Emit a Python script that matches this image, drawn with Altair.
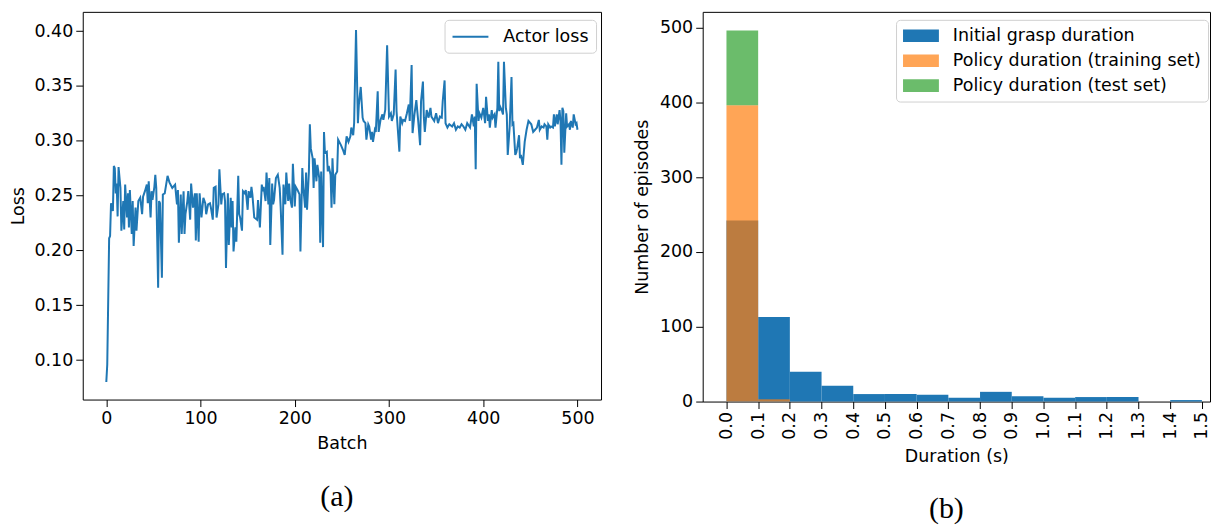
import altair as alt
import pandas as pd

# ---------------- panel (a): actor loss ----------------
batch = [0, 1, 3, 4, 5, 7, 8, 9, 10, 11, 12, 13, 15, 16, 18, 19, 20, 22, 23, 24, 25, 27, 28, 29, 31, 32, 34, 36, 38, 39,
         41, 43, 44, 45, 47, 48, 49, 51, 52, 53, 55, 56, 57, 59, 60, 62, 65, 67, 70, 73, 75, 76, 77, 79, 80, 82, 83, 84, 86, 87,
         89, 90, 92, 94, 95, 96, 98, 99, 101, 103, 105, 106, 108, 110, 111, 113, 114, 116, 117, 119, 120, 122, 123, 125, 126, 127, 129, 130, 132, 133,
         134, 135, 137, 138, 140, 141, 142, 144, 145, 147, 148, 150, 151, 153, 154, 155, 157, 160, 161, 163, 165, 166, 167, 169, 170, 172, 173, 174, 176, 177,
         178, 180, 182, 184, 185, 187, 188, 190, 191, 193, 194, 195, 197, 198, 200, 201, 203, 205, 206, 208, 209, 211, 212, 213, 215, 216, 217, 219, 220, 221,
         223, 224, 226, 227, 228, 230, 231, 232, 234, 235, 236, 238, 239, 240, 242, 243, 245,
         246, 249, 251, 253, 255, 257, 259, 260, 262, 263, 265, 267, 268, 270, 272, 273, 275, 276, 278, 279, 281, 282, 283, 285, 286, 288, 289, 291, 293, 294,
         296, 298, 300, 302, 303, 305, 307, 308, 311, 312, 314, 315, 317, 319, 321, 322, 324, 325, 327, 329, 330, 331, 333, 334, 336, 337, 338, 340, 342, 344,
         345, 348, 350, 352, 354, 356, 357, 359, 360, 362, 364, 367, 369, 371, 373, 375, 377, 379, 381, 383, 386, 388, 390, 391, 392, 393, 395, 396, 398, 400,
         402, 403, 405, 406, 407, 409, 410, 412, 413, 415, 416, 417, 418, 420, 421, 422, 424, 425, 426, 428, 430, 431, 432, 434, 435, 436, 438, 439, 440, 442,
         444, 446, 448, 451, 453, 455, 457, 459, 460, 462, 464, 465, 467, 468, 469, 471, 472, 474, 475, 476, 478, 479, 481, 482, 483, 484, 485, 486, 488, 489,
         491, 492, 493, 495, 496, 498, 499, 500]
loss = [0.080, 0.096, 0.211, 0.213, 0.243, 0.236, 0.277, 0.275, 0.252, 0.261, 0.231, 0.276, 0.257, 0.218, 0.245, 0.219, 0.260, 0.230, 0.252, 0.221, 0.255, 0.215, 0.245, 0.204, 0.239, 0.218, 0.245, 0.248, 0.233, 0.249,
        0.254, 0.260, 0.243, 0.263, 0.230, 0.254, 0.246, 0.258, 0.269, 0.257, 0.166, 0.245, 0.243, 0.175, 0.251, 0.252, 0.268, 0.262, 0.257, 0.260, 0.242, 0.255, 0.207, 0.251, 0.215, 0.254, 0.215, 0.233, 0.245, 0.254,
        0.228, 0.261, 0.239, 0.252, 0.209, 0.252, 0.208, 0.252, 0.230, 0.248, 0.243, 0.233, 0.242, 0.243, 0.239, 0.228, 0.257, 0.258, 0.230, 0.242, 0.274, 0.242, 0.251, 0.252, 0.245, 0.184, 0.252, 0.205, 0.248, 0.221,
        0.245, 0.199, 0.221, 0.208, 0.268, 0.233, 0.230, 0.218, 0.254, 0.252, 0.255, 0.237, 0.254, 0.248, 0.258, 0.251, 0.230, 0.228, 0.246, 0.221, 0.260, 0.254, 0.258, 0.245, 0.271, 0.242, 0.266, 0.205, 0.261, 0.242,
        0.246, 0.266, 0.269, 0.257, 0.240, 0.196, 0.260, 0.242, 0.271, 0.245, 0.261, 0.248, 0.239, 0.279, 0.240, 0.258, 0.255, 0.251, 0.199, 0.275, 0.258, 0.239, 0.271, 0.237, 0.272, 0.315, 0.293, 0.284, 0.257, 0.284,
        0.263, 0.278, 0.266, 0.207, 0.272, 0.203, 0.308, 0.289, 0.290, 0.272, 0.277, 0.269, 0.239, 0.284, 0.242, 0.269, 0.272,
        0.301, 0.296, 0.292, 0.287, 0.304, 0.299, 0.304, 0.312, 0.305, 0.316, 0.401, 0.316, 0.333, 0.349, 0.321, 0.318, 0.316, 0.301, 0.315, 0.313, 0.301, 0.308, 0.299, 0.310, 0.308, 0.345, 0.308, 0.319, 0.324, 0.319,
        0.328, 0.387, 0.322, 0.325, 0.318, 0.324, 0.365, 0.327, 0.290, 0.322, 0.316, 0.319, 0.318, 0.325, 0.333, 0.318, 0.369, 0.307, 0.324, 0.337, 0.327, 0.318, 0.296, 0.336, 0.354, 0.321, 0.308, 0.328, 0.321, 0.330,
        0.322, 0.318, 0.325, 0.316, 0.322, 0.321, 0.336, 0.355, 0.316, 0.312, 0.315, 0.313, 0.316, 0.310, 0.313, 0.312, 0.315, 0.313, 0.310, 0.316, 0.312, 0.324, 0.313, 0.322, 0.274, 0.352, 0.318, 0.325, 0.321, 0.330,
        0.316, 0.340, 0.318, 0.324, 0.312, 0.328, 0.321, 0.324, 0.312, 0.330, 0.372, 0.327, 0.331, 0.327, 0.324, 0.372, 0.330, 0.324, 0.287, 0.312, 0.358, 0.315, 0.316, 0.287, 0.289, 0.293, 0.305, 0.284, 0.287, 0.278,
        0.299, 0.310, 0.318, 0.315, 0.308, 0.310, 0.312, 0.319, 0.310, 0.313, 0.312, 0.315, 0.313, 0.301, 0.315, 0.312, 0.313, 0.312, 0.324, 0.313, 0.324, 0.315, 0.328, 0.318, 0.278, 0.330, 0.327, 0.289, 0.325, 0.313,
        0.315, 0.310, 0.318, 0.312, 0.324, 0.315, 0.316, 0.310]
loss_ticks = [0.10, 0.15, 0.20, 0.25, 0.30, 0.35, 0.40]
batch_ticks = [0, 100, 200, 300, 400, 500]

# ---------------- panel (b): duration histogram ----------------
bin_start = [0.0, 0.1, 0.2, 0.3, 0.4, 0.5, 0.6, 0.7, 0.8, 0.9, 1.0, 1.1, 1.2, 1.3, 1.4]
grasp_counts = [242, 113, 40, 21, 10, 10, 9, 5, 13, 7, 5, 6, 6, 0, 2]
train_counts = [396, 3, 0, 0, 0, 0, 0, 0, 0, 0, 0, 0, 0, 0, 0]
test_counts = [100, 0, 0, 0, 0, 0, 0, 0, 0, 0, 0, 0, 0, 0, 0]
series_names = ["Initial grasp duration", "Policy duration (training set)", "Policy duration (test set)"]
series_colors = ["#1f77b4", "#ff7f0e", "#2ca02c"]
series_alpha = [1.0, 0.7, 0.7]
duration_ticks = [0.0, 0.1, 0.2, 0.3, 0.4, 0.5, 0.6, 0.7, 0.8, 0.9, 1.0, 1.1, 1.2, 1.3, 1.4, 1.5]
count_ticks = [0, 100, 200, 300, 400, 500]

FONT = "DejaVu Sans"
TICK_FS = 17.5
TITLE_FS = 17.5
LEG_FS = 17.5

line_df = pd.DataFrame({"Batch": batch, "Loss": loss, "series": "Actor loss"})

rows = []
for i, b in enumerate(bin_start):
    rows.append({"series": series_names[0], "x0": b, "x1": b + 0.1, "y0": 0, "y1": grasp_counts[i]})
for i, b in enumerate(bin_start):
    rows.append({"series": series_names[1], "x0": b, "x1": b + 0.1, "y0": 0, "y1": train_counts[i]})
for i, b in enumerate(bin_start):
    rows.append({"series": series_names[2], "x0": b, "x1": b + 0.1,
                 "y0": train_counts[i], "y1": train_counts[i] + test_counts[i]})
hist_df = pd.DataFrame(rows)
hist_df = hist_df[hist_df["y1"] > hist_df["y0"]]

legend_common = dict(
    title=None, orient="none", labelFont=FONT, labelFontSize=LEG_FS, labelColor="black", labelLimit=400,
    strokeColor="#d0d0d0", fillColor="white", cornerRadius=4, padding=7,
)

left = alt.Chart(line_df).mark_line(strokeWidth=2, clip=True).encode(
    x=alt.X("Batch:Q", scale=alt.Scale(domain=[-25, 525], nice=False, zero=False),
            axis=alt.Axis(values=batch_ticks, title="Batch", format="d")),
    y=alt.Y("Loss:Q", scale=alt.Scale(domain=[0.064, 0.4175], nice=False, zero=False),
            axis=alt.Axis(values=loss_ticks, title="Loss", format=".2f", titlePadding=6)),
    color=alt.Color("series:N", scale=alt.Scale(domain=["Actor loss"], range=["#1f77b4"]),
                    legend=alt.Legend(legendX=363, legendY=8, symbolType="M-1,0H3", symbolSize=324,
                                      symbolStrokeWidth=2, labelOffset=32, **legend_common)),
).properties(
    width=520, height=389,
    title=alt.TitleParams("(a)", orient="bottom", anchor="middle", frame="group", font="Liberation Serif",
                          fontSize=30, fontWeight="normal", color="black", dx=-5, offset=30),
)

right = alt.Chart(hist_df).mark_rect().encode(
    x=alt.X("x0:Q", scale=alt.Scale(domain=[-0.075, 1.5255], nice=False, zero=False),
            axis=alt.Axis(values=duration_ticks, title="Duration (s)", format=".1f", labelAngle=270)),
    x2="x1:Q",
    y=alt.Y("y0:Q", scale=alt.Scale(domain=[0, 521], nice=False),
            axis=alt.Axis(values=count_ticks, title="Number of episodes", format="d", titlePadding=8)),
    y2="y1:Q",
    color=alt.Color("series:N", scale=alt.Scale(domain=series_names, range=series_colors),
                    legend=alt.Legend(legendX=194, legendY=8, symbolType="M-1,-0.7H3V0.7H-1Z", symbolSize=324,
                                      symbolStrokeWidth=0, labelOffset=32, rowPadding=7, **legend_common)),
    opacity=alt.Opacity("series:N", scale=alt.Scale(type="ordinal", domain=series_names, range=series_alpha)),
).properties(
    width=509, height=391,
    title=alt.TitleParams("(b)", orient="bottom", anchor="middle", frame="group", font="Liberation Serif",
                          fontSize=30, fontWeight="normal", color="black", dx=-10, offset=30),
)

chart = alt.hconcat(left, right, spacing=31).resolve_scale(
    color="independent", opacity="independent", x="independent", y="independent"
).resolve_legend(
    color="independent", opacity="independent"
).properties(
    padding={"left": 1, "top": 2, "right": 0, "bottom": 0}
).configure_view(
    stroke="black", strokeWidth=1
).configure_axis(
    grid=False, domain=False, tickColor="black", tickSize=7, tickWidth=1,
    labelFont=FONT, labelFontSize=TICK_FS, labelColor="black", labelPadding=3,
    titleFont=FONT, titleFontSize=TITLE_FS, titleFontWeight="normal", titleColor="black", titlePadding=8,
)

chart.save("out.html", embed_options={"renderer": "svg", "actions": False})
